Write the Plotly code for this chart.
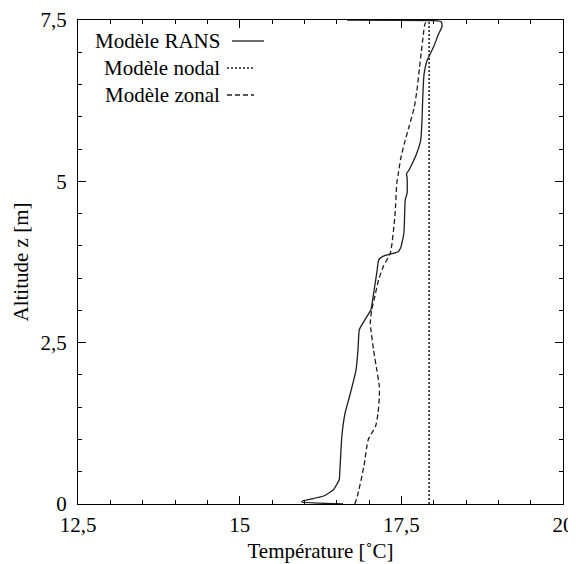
import plotly.graph_objects as go

# Profils verticaux de température
rans_T = [16.60, 15.96, 15.98, 16.29, 16.45, 16.54, 16.55, 16.58, 16.63, 16.70,
          16.80, 16.83, 16.85, 16.94, 17.03, 17.08, 17.12, 17.15, 17.22, 17.45,
          17.49, 17.54, 17.56, 17.59, 17.59, 17.58, 17.61, 17.67, 17.74, 17.80,
          17.82, 17.83, 17.85, 17.89, 17.94, 18.01, 18.07, 18.13, 18.12, 18.02,
          16.66]
rans_z = [0.00, 0.03, 0.05, 0.12, 0.22, 0.38, 0.53, 1.05, 1.41, 1.67,
          2.08, 2.39, 2.70, 2.86, 3.01, 3.32, 3.58, 3.78, 3.84, 3.91,
          3.97, 4.20, 4.71, 4.82, 5.05, 5.12, 5.16, 5.28, 5.44, 5.64,
          5.95, 6.26, 6.65, 6.85, 6.96, 7.11, 7.27, 7.40, 7.47, 7.49,
          7.50]

nodal_T = [17.93, 17.93]
nodal_z = [0.0, 7.5]

zonal_T = [16.78, 16.82, 16.92, 16.99, 17.10, 17.14, 17.16, 17.16, 17.12, 17.07,
           17.03, 17.02, 17.04, 17.08, 17.15, 17.23, 17.33, 17.40, 17.43, 17.45,
           17.49, 17.55, 17.62, 17.70, 17.74, 17.78, 17.81, 17.84, 17.87, 17.94]
zonal_z = [0.00, 0.12, 0.58, 1.00, 1.20, 1.41, 1.67, 1.82, 2.08, 2.39,
           2.70, 2.80, 3.00, 3.17, 3.48, 3.70, 3.89, 4.46, 4.97, 5.10,
           5.35, 5.60, 5.85, 6.15, 6.40, 6.75, 7.01, 7.27, 7.45, 7.50]

x_ticks = [12.5, 15, 17.5, 20]
x_labels = ["12,5", "15", "17,5", "20"]
y_ticks = [0, 2.5, 5, 7.5]
y_labels = ["0", "2,5", "5", "7,5"]

legend_names = ["Modèle RANS", "Modèle nodal", "Modèle zonal"]

FONT = "Liberation Serif"
INK = "#1e1e1e"

fig = go.Figure()
fig.add_trace(go.Scatter(x=rans_T, y=rans_z, mode="lines", name=legend_names[0],
                         line=dict(color=INK, width=1.3, shape="spline", smoothing=0.4)))
fig.add_trace(go.Scatter(x=nodal_T, y=nodal_z, mode="lines", name=legend_names[1],
                         line=dict(color=INK, width=1.5, dash="2px,2px")))
fig.add_trace(go.Scatter(x=zonal_T, y=zonal_z, mode="lines", name=legend_names[2],
                         line=dict(color=INK, width=1.3, dash="5px,3px", shape="spline", smoothing=0.6)))

# legend drawn gnuplot-like: text right-aligned, line sample on its right
# on screen the plot area is 78..563 px wide, 20..504 px tall
W, H = 485.0, 484.0
dashes = ["solid", "2px,2px", "5px,3px"]
rows_px = [41, 68, 95]
samples_px = [(232, 264), (227, 254), (227, 254)]
for name, dash, ypx, (s0, s1) in zip(legend_names, dashes, rows_px, samples_px):
    yy = (504 - ypx) / H
    fig.add_annotation(x=(222 - 78) / W, y=yy, xref="paper", yref="paper", text=name,
                       showarrow=False, xanchor="right", yanchor="middle",
                       font=dict(family=FONT, size=21, color="black"))
    fig.add_shape(type="line", xref="paper", yref="paper", x0=(s0 - 78) / W, x1=(s1 - 78) / W,
                  y0=yy, y1=yy, line=dict(color=INK, width=1.3, dash=dash))

axis_common = dict(showline=True, linecolor="black", linewidth=1, mirror="allticks",
                   ticks="inside", ticklen=8, tickcolor="black", showgrid=False,
                   zeroline=False, tickfont=dict(family=FONT, size=21, color="black"),
                   minor=dict(dtick=0.5, ticks="inside", ticklen=4, tickcolor="black"))

fig.update_xaxes(range=[12.5, 20], tickvals=x_ticks, ticktext=x_labels, ticklabelstandoff=2,
                 title=dict(text="Température [˚C]", font=dict(family=FONT, size=21, color="black"),
                            standoff=7),
                 automargin=False, **axis_common)
fig.update_yaxes(range=[0, 7.5], tickvals=y_ticks, ticktext=y_labels, ticklabelstandoff=6,
                 title=dict(text="Altitude z [m]", font=dict(family=FONT, size=21, color="black"),
                            standoff=6),
                 automargin=False, **axis_common)

# the page body adds 8 px around the figure, margins account for it
fig.update_layout(width=576, height=564, showlegend=False,
                  margin=dict(l=70, r=21, t=12, b=68),
                  plot_bgcolor="white", paper_bgcolor="white",
                  font=dict(family=FONT))

fig.write_html("out.html")
